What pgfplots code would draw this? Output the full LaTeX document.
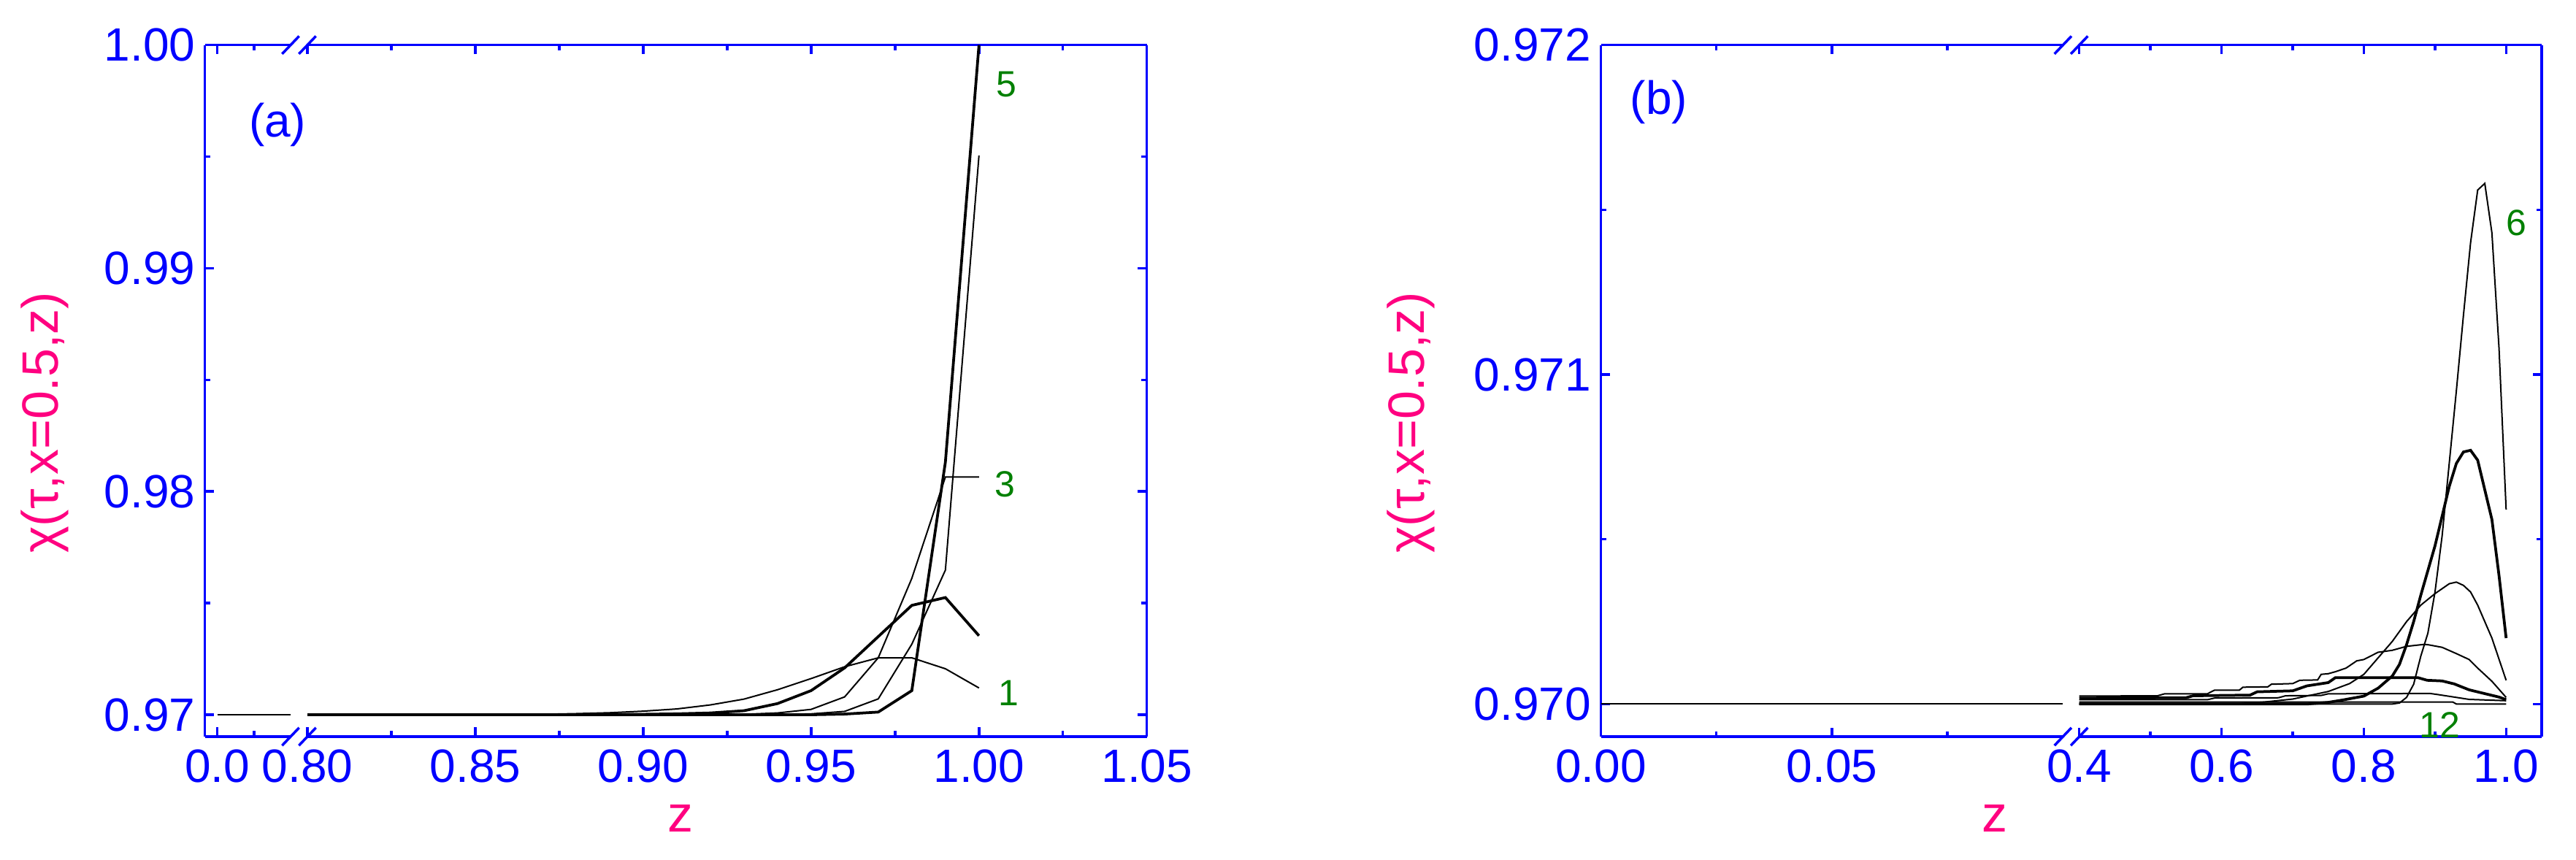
\documentclass[border=0pt]{standalone}
\usepackage{fontspec}
\setmainfont{Liberation Sans}
\usepackage{pgfplots}
\pgfplotsset{compat=1.18}

\definecolor{axblue}{RGB}{0,0,255}
\definecolor{lblpink}{RGB}{255,0,128}
\definecolor{numgreen}{RGB}{0,128,0}

\tikzset{
  num/.style={text=numgreen, font=\fontsize{10}{12}\selectfont},
  tag/.style={text=axblue, font=\fontsize{12.8}{14}\selectfont},
}

\pgfplotsset{
  brk/.style={
    scale only axis, height=189.46pt, clip=false,
    scaled x ticks=false, scaled y ticks=false,
    axis line style={axblue, line width=0.7pt},
    tick style={axblue, line width=0.7pt},
    major tick length=2.5pt, minor tick length=1.5pt,
    tick align=inside,
    tick label style={font=\fontsize{12.8}{14}\selectfont, text=axblue},
    yticklabel style={inner sep=2.5pt},
    label style={font=\fontsize{14}{16}\selectfont, text=lblpink},
    cycle list={{black, line width=0.75pt, mark=none}},
  },
  pa/.style={brk, ymin=0.96902, ymax=1.0,
    ytick={0.97,0.98,0.99,1.00}, minor ytick={0.975,0.985,0.995}},
  pb/.style={brk, ymin=0.969901, ymax=0.972,
    ytick={0.970,0.971,0.972}, minor ytick={0.9705,0.9715}},
}

\begin{document}
\begin{tikzpicture}
\useasboundingbox (0,0) rectangle (705.6pt,235.4pt);

% ---- panel (a), left piece
\begin{axis}[pa, at={(56.14pt,33.6pt)}, anchor=south west, width=23.46pt,
  axis y line*=left, xmin=-0.00338, xmax=0.01994,
  xtick={0}, xticklabels={0.0}, minor xtick={0.01},
  yticklabels={0.97,0.98,0.99,1.00},
  ylabel={χ(τ,x=0.5,z)},
  ylabel style={at={(axis description cs:-1.873,0.454)}, anchor=center}]
\addplot coordinates {(0,0.97) (0.02,0.97)};
\node[tag] at (axis cs:0.0164,0.99644) {(a)};
\end{axis}

% ---- panel (a), right piece
\begin{axis}[pa, at={(84.2pt,33.6pt)}, anchor=south west, width=229.94pt,
  axis y line*=right, xmin=0.80, xmax=1.05,
  xtick={0.80,0.85,0.90,0.95,1.00,1.05},
  xticklabels={0.80,0.85,0.90,0.95,1.00,1.05},
  minor xtick={0.825,0.875,0.925,0.975,1.025},
  yticklabels={},
  xlabel={z},
  xlabel style={at={(axis description cs:0.4445,0)}, anchor=center, inner sep=1pt, yshift=-22.5pt}]
% curve 1
\addplot coordinates {(0.80,0.97) (0.85,0.97) (0.86,0.970005) (0.87,0.97002) (0.88,0.97005)
 (0.89,0.97009) (0.90,0.97016) (0.91,0.97026) (0.92,0.97044) (0.93,0.97070) (0.94,0.97112)
 (0.95,0.97162) (0.96,0.97215) (0.97,0.97255) (0.98,0.97255) (0.99,0.97206) (1.00,0.97120)};
% curve 2
\addplot coordinates {(0.80,0.97) (0.88,0.97) (0.89,0.970012) (0.90,0.97002) (0.91,0.97004)
 (0.92,0.97008) (0.93,0.97018) (0.94,0.97050) (0.95,0.97108) (0.96,0.97210) (0.97,0.97350)
 (0.98,0.97490) (0.99,0.97525) (1.00,0.97354)};
% curve 3
\addplot coordinates {(0.80,0.97) (0.91,0.97) (0.92,0.970008) (0.93,0.97002) (0.94,0.97008)
 (0.95,0.97024) (0.96,0.97080) (0.97,0.97255) (0.98,0.97611) (0.99,0.98065) (1.00,0.98065)};
% curve 4
\addplot coordinates {(0.80,0.97) (0.93,0.97) (0.94,0.970008) (0.95,0.97004) (0.96,0.97015)
 (0.97,0.97071) (0.98,0.97316) (0.99,0.97648) (1.00,0.99505)};
% curve 5
\addplot coordinates {(0.80,0.97) (0.95,0.97) (0.96,0.97003) (0.97,0.97012) (0.98,0.97108)
 (0.99,0.98132) (1.00,1.000)};
\node[num] at (axis cs:1.0082,0.99823) {5};
\node[num] at (axis cs:1.0077,0.98034) {3};
\node[num] at (axis cs:1.0089,0.97096) {1};
\end{axis}

% ---- panel (b), left piece
\begin{axis}[pb, at={(438.5pt,33.6pt)}, anchor=south west, width=126.56pt,
  axis y line*=left, xmin=0, xmax=0.1,
  xtick={0,0.05}, xticklabels={0.00,0.05}, minor xtick={0.025,0.075},
  yticklabels={0.970,0.971,0.972},
  ylabel={χ(τ,x=0.5,z)},
  ylabel style={at={(axis description cs:-0.4117,0.454)}, anchor=center},
  xlabel={z},
  xlabel style={at={(axis description cs:0.852,0)}, anchor=center, inner sep=1pt, yshift=-22.5pt}]
\addplot coordinates {(0,0.970) (0.1,0.970)};
\node[tag] at (axis cs:0.01254,0.971826) {(b)};
\end{axis}

% ---- panel (b), right piece
\begin{axis}[pb, at={(569.54pt,33.6pt)}, anchor=south west, width=126.66pt,
  axis y line*=right, xmin=0.4, xmax=1.05,
  xtick={0.4,0.6,0.8,1.0}, xticklabels={0.4,0.6,0.8,1.0}, minor xtick={0.5,0.7,0.9},
  yticklabels={}]
% curve 6
\addplot coordinates {(0.40,0.970000) (0.84,0.970000) (0.85,0.970003) (0.86,0.970020)
 (0.87,0.970060) (0.88,0.970145) (0.89,0.970215) (0.90,0.970340) (0.91,0.970510)
 (0.92,0.970730) (0.93,0.970950) (0.94,0.971180) (0.95,0.971400) (0.96,0.971560)
 (0.97,0.971580) (0.98,0.971430) (0.99,0.971080) (1.00,0.970590)};
% curve 7
\addplot coordinates {(0.40,0.970000) (0.72,0.970000) (0.75,0.970005) (0.77,0.970012)
 (0.80,0.970024) (0.82,0.970048) (0.84,0.970085) (0.85,0.970120) (0.86,0.970180)
 (0.87,0.970250) (0.88,0.970330) (0.90,0.970480) (0.92,0.970660) (0.93,0.970730)
 (0.94,0.970765) (0.95,0.970770) (0.96,0.970740) (0.97,0.970650) (0.98,0.970560)
 (0.99,0.970390) (1.00,0.970200)};
% curve 8
\addplot coordinates {(0.40,0.970000) (0.62,0.970000) (0.66,0.970006) (0.70,0.970015)
 (0.75,0.970038) (0.78,0.970062) (0.80,0.970090) (0.82,0.970140) (0.84,0.970190)
 (0.86,0.970250) (0.88,0.970300) (0.90,0.970335) (0.92,0.970365) (0.93,0.970370)
 (0.94,0.970360) (0.95,0.970340) (0.96,0.970300) (0.98,0.970200) (1.00,0.970072)};
% curve 9
\addplot coordinates {(0.40,0.970024) (0.51,0.970025) (0.52,0.970031) (0.58,0.970031)
 (0.59,0.970042) (0.625,0.970042) (0.63,0.970051) (0.665,0.970052) (0.67,0.970060)
 (0.70,0.970062) (0.71,0.970072) (0.735,0.970073) (0.74,0.970090) (0.75,0.970092)
 (0.76,0.970098) (0.775,0.970109) (0.79,0.970131) (0.80,0.970135) (0.81,0.970146)
 (0.82,0.970157) (0.84,0.970163) (0.86,0.970175) (0.885,0.970181) (0.89,0.970180)
 (0.91,0.970172) (0.93,0.970153) (0.948,0.970135) (0.96,0.970109) (0.98,0.970069)
 (1.00,0.970020)};
% curve 10
\addplot coordinates {(0.40,0.970018) (0.55,0.970019) (0.56,0.970025) (0.64,0.970027)
 (0.65,0.970037) (0.70,0.970040) (0.72,0.970055) (0.75,0.970065) (0.76,0.970080)
 (0.876,0.970080) (0.889,0.970072) (0.91,0.970070) (0.927,0.970061) (0.948,0.970043)
 (0.969,0.970032) (0.99,0.970021) (1.00,0.970013)};
% curve 11
\addplot coordinates {(0.40,0.970013) (0.58,0.970013) (0.59,0.970018) (0.68,0.970019)
 (0.69,0.970025) (0.74,0.970026) (0.75,0.970031) (0.893,0.970032) (0.906,0.970028)
 (0.927,0.970021) (0.948,0.970014) (1.00,0.970010)};
% curve 12
\addplot coordinates {(0.40,0.970006) (0.925,0.970006) (0.93,0.970000) (1.00,0.970000)};
\node[num] at (axis cs:1.0142,0.971460) {6};
\node[num] at (axis cs:0.9066,0.969937) {12};
\end{axis}

% break marks on the x axes
\foreach \xx in {79.6,84.2,565.06,569.54}
  \foreach \yy in {33.6,223.06}
    \draw[axblue, line width=0.7pt] ({\xx pt-2.33pt},{\yy pt-2.44pt}) -- ({\xx pt+2.33pt},{\yy pt+2.44pt});
\end{tikzpicture}
\end{document}
